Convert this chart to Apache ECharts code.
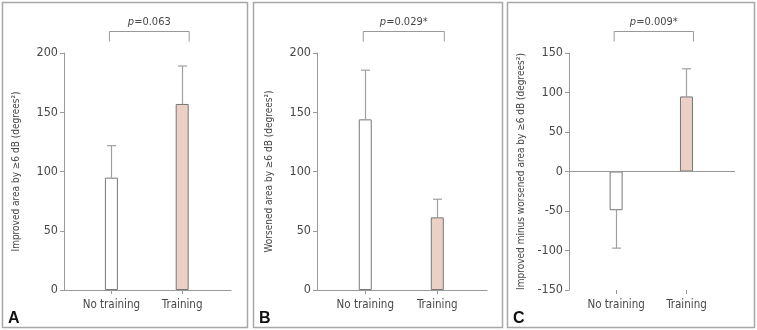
<!DOCTYPE html>
<html>
<head>
<meta charset="utf-8">
<script src="https://cdn.jsdelivr.net/npm/echarts@6/dist/echarts.min.js"></script>
<style>
  html, body { margin: 0; padding: 0; background: #fff; }
  #chart { width: 757px; height: 330px; }
</style>
</head>
<body>
<div id="chart"></div>
<script>
// groups on the x axis
const groups = ['No training', 'Training']

// panel A: improved area
const improvedMean = [94.8, 157]
const improvedSD = [27, 32]
// panel B: worsened area
const worsenedMean = [144, 61.3]
const worsenedSD = [41.5, 15.3]
// panel C: improved minus worsened
const diffMean = [-49, 95]
const diffSD = [-48, 35]

const pValues = ['0.063', '0.029*', '0.009*']
const panelLetters = ['A', 'B', 'C']
const yNames = [
  'Improved area by \u22656 dB (degrees\u00b2)',
  'Worsened area by \u22656 dB (degrees\u00b2)',
  'Improved minus worsened area by \u22656 dB (degrees\u00b2)'
]
const yRanges = [[0, 200], [0, 200], [-150, 150]]

const FONT = "'Liberation Sans Narrow', 'DejaVu Sans Condensed', 'Liberation Sans', sans-serif"
const TEXT = '#484848'
const AXIS = '#999'
const BAR_FILL = ['#ffffff', '#ebd0c5']

const grids = [
  { left: 64, top: 53, width: 167, height: 237 },
  { left: 317, top: 53, width: 170, height: 237 },
  { left: 569, top: 53, width: 166, height: 237 }
]

const panels = [
  { mean: improvedMean, sd: improvedSD },
  { mean: worsenedMean, sd: worsenedSD },
  { mean: diffMean, sd: diffSD }
]

const chart = echarts.init(document.getElementById('chart'))

const xAxes = grids.map((g, i) => ({
  type: 'value',
  gridIndex: i,
  min: -0.67,
  max: 1.69,
  splitLine: { show: false },
  axisLine: { show: i < 2, onZero: false, lineStyle: { color: AXIS, width: 1 } },
  axisTick: { show: true, customValues: [0, 1], length: 4, lineStyle: { color: AXIS } },
  axisLabel: {
    customValues: [0, 1],
    formatter: v => groups[Math.round(v)],
    color: TEXT,
    fontFamily: FONT,
    fontSize: 11.5,
    margin: 9
  }
}))

const yAxes = grids.map((g, i) => ({
  type: 'value',
  gridIndex: i,
  min: yRanges[i][0],
  max: yRanges[i][1],
  interval: 50,
  name: yNames[i],
  nameLocation: 'middle',
  nameGap: 43,
  nameTextStyle: { color: TEXT, fontFamily: FONT, fontSize: 10 },
  splitLine: { show: false },
  axisLine: { show: true, onZero: false, lineStyle: { color: AXIS, width: 1 } },
  axisTick: { show: true, length: 4, lineStyle: { color: AXIS } },
  axisLabel: { color: TEXT, fontFamily: FONT, fontSize: 12.5, margin: 6 }
}))

const series = []
panels.forEach((p, i) => {
  series.push({
    type: 'bar',
    xAxisIndex: i,
    yAxisIndex: i,
    barWidth: 13,
    data: p.mean.map((v, k) => ({
      value: [k, v],
      itemStyle: { color: BAR_FILL[k], borderColor: '#777', borderWidth: 1 }
    })),
    markLine: i === 2 ? {
      silent: true,
      symbol: 'none',
      label: { show: false },
      lineStyle: { color: AXIS, type: 'solid', width: 1 },
      data: [{ yAxis: 0 }]
    } : undefined,
    z: 3
  })
  series.push({
    type: 'custom',
    xAxisIndex: i,
    yAxisIndex: i,
    data: p.mean.map((v, k) => [k, v, v + p.sd[k]]),
    renderItem: (params, api) => {
      const a = api.coord([api.value(0), api.value(1)])
      const b = api.coord([api.value(0), api.value(2)])
      const x = Math.round(a[0]) + 0.5
      const style = { stroke: '#a0a0a0', lineWidth: 1.2 }
      return {
        type: 'group',
        children: [
          { type: 'line', shape: { x1: x, y1: a[1], x2: x, y2: b[1] }, style },
          { type: 'line', shape: { x1: x - 4.5, y1: b[1], x2: x + 4.5, y2: b[1] }, style }
        ]
      }
    },
    z: 2
  })
})

chart.setOption({
  animation: false,
  grid: grids,
  xAxis: xAxes,
  yAxis: yAxes,
  series
})

// panel frames, letters, brackets with p values
const graphics = []
const frames = [[2, 2, 245, 325], [253, 2, 249, 325], [507, 2, 247, 325]]
frames.forEach((f, i) => {
  graphics.push({
    type: 'rect',
    shape: { x: f[0] + 0.5, y: f[1] + 0.5, width: f[2], height: f[3] },
    style: { fill: 'none', stroke: '#a8a8a8', lineWidth: 1.5 },
    silent: true
  })
  graphics.push({
    type: 'text',
    x: f[0] + 6,
    y: 311,
    style: { text: panelLetters[i], font: "bold 16px 'Liberation Sans', Arial, sans-serif", fill: '#111' }
  })
})

panels.forEach((p, i) => {
  const left = chart.convertToPixel({ xAxisIndex: i }, 0) - 2
  const right = chart.convertToPixel({ xAxisIndex: i }, 1) + 7
  const yTop = 31.5
  graphics.push({
    type: 'polyline',
    shape: { points: [[left, 41.5], [left, yTop], [right, yTop], [right, 41.5]] },
    style: { stroke: '#999', lineWidth: 1, fill: 'none' },
    silent: true
  })
  graphics.push({
    type: 'text',
    x: (left + right) / 2,
    y: 22,
    style: {
      text: '{i|p}=' + pValues[i],
      align: 'center',
      verticalAlign: 'middle',
      font: '11px ' + FONT,
      fill: TEXT,
      rich: { i: { fontStyle: 'italic', fontFamily: FONT, fontSize: 11, fill: TEXT } }
    }
  })
})

chart.setOption({ graphic: graphics })
window.addEventListener('resize', () => chart.resize())
</script>
</body>
</html>
